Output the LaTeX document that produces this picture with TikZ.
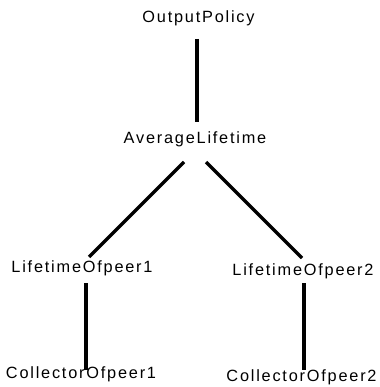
\documentclass[tikz,border=0pt]{standalone}
\usepackage{fontspec}
\setmainfont{Liberation Sans}[LetterSpace=11]
\usetikzlibrary{calc}
\newcommand{\lbfont}{\fontsize{16.3}{18}\selectfont}
\begin{document}
\begin{tikzpicture}[x=1pt,y=-1pt,
  lbl/.style={inner sep=0pt,anchor=base,font=\lbfont},
  conn/.style={line width=3.3pt}]
\useasboundingbox[fill=white] (0,0) rectangle (379,387);
\node[lbl] (op) at (198.5,22.5) {OutputPolicy};
\node[lbl] (al) at (195,144) {AverageLifetime};
\node[lbl] (l1) at (82,272) {LifetimeOfpeer1};
\node[lbl] (l2) at (303,275) {LifetimeOfpeer2};
\node[lbl] (c1) at (81,378.5) {CollectorOfpeer1};
\node[lbl] (c2) at (301.5,381) {CollectorOfpeer2};
\draw[conn] ($(op.base)+(-1.5,16.5)$) -- ($(al.base)+(2,-22)$);
\draw[conn] ($(al.base)+(-11,18)$) -- ($(l1.base)+(7,-15)$);
\draw[conn] ($(al.base)+(11,18)$) -- ($(l2.base)+(-1,-17)$);
\draw[conn] ($(l1.base)+(4,11)$) -- ($(c1.base)+(5,-8.5)$);
\draw[conn] ($(l2.base)+(1,8)$) -- ($(c2.base)+(2.5,-11)$);
\end{tikzpicture}
\end{document}
